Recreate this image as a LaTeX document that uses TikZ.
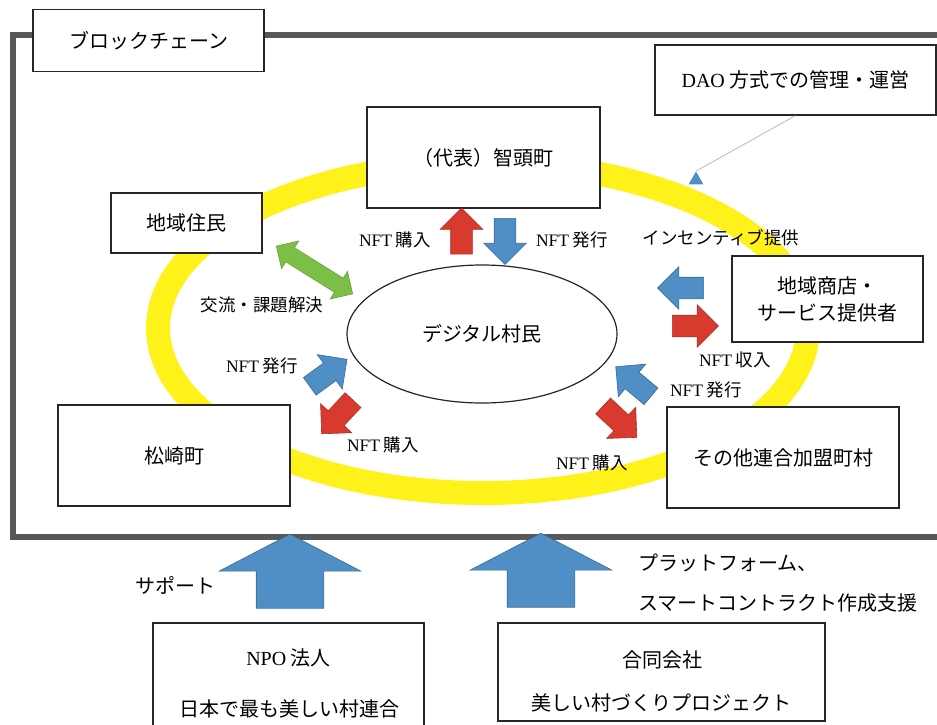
\documentclass[tikz,border=0pt]{standalone}
\usepackage{fontspec}
\setmainfont{Liberation Serif}
\newfontfamily\jp{Noto Sans CJK JP}
\usepackage{tikz}
\usetikzlibrary{shapes.arrows,shapes.geometric,arrows.meta}

\definecolor{ringyellow}{HTML}{FFF21A}
\definecolor{nftblue}{HTML}{4F8FC6}
\definecolor{nftred}{HTML}{D93A2E}
\definecolor{talkgreen}{HTML}{7CBF47}
\definecolor{framegray}{HTML}{585858}

\tikzset{
  box/.style={draw=black!85, line width=1.2pt, fill=white, inner sep=0pt},
  boxtext/.style={font=\jp\fontsize{20}{27}\selectfont, align=center},
  lbl/.style={font=\jp\fontsize{17.5}{20}\selectfont, inner sep=0pt},
  blockarrow/.style={single arrow, inner xsep=0pt, inner ysep=10.5pt, single arrow head indent=0pt,
    line width=0.6pt, minimum height=46, single arrow head extend=10.5},
  bluearrow/.style={blockarrow, fill=nftblue, draw=nftblue!75!black},
  redarrow/.style={blockarrow, fill=nftred, draw=nftred!80!black},
  bigarrow/.style={single arrow, inner xsep=0pt, inner ysep=33.5pt, single arrow head indent=0pt,
    single arrow tip angle=125, minimum height=74,
    single arrow head extend=37, fill=nftblue, draw=nftblue!75!black, line width=0.6pt},
}

\begin{document}
\begin{tikzpicture}[x=1pt, y=-1pt]
\useasboundingbox (0,0) rectangle (937,724);
\clip (0,0) rectangle (937,724);

% Blockchain frame and ring
\draw[framegray, line width=6pt] (12.5,35) rectangle (960,537);
\draw[ringyellow, line width=24pt] (483,328) ellipse [x radius=325, y radius=165];
\node[ellipse, draw=black!85, line width=1.2pt, fill=white, minimum width=270, minimum height=138, boxtext] (village) at (482,334) {デジタル村民};

% Boxes
\node[box, boxtext, minimum width=231, minimum height=62] (chain) at (148.5,40.5) {ブロックチェーン};
\node[box, boxtext, minimum width=281, minimum height=70] (dao) at (795.5,80) {{\rmfamily DAO} 方式での管理・運営};
\node[box, boxtext, minimum width=233, minimum height=101] (chizu) at (483.5,157.5) {（代表）智頭町};
\node[box, boxtext, minimum width=151, minimum height=60] (residents) at (186.5,223) {地域住民};
\node[box, boxtext, minimum width=191, minimum height=86] (shops) at (827.5,299) {地域商店・\\サービス提供者};
\node[box, boxtext, minimum width=232, minimum height=101] (matsuzaki) at (174,455.5) {松崎町};
\node[box, boxtext, minimum width=232, minimum height=101] (others) at (783,457.5) {その他連合加盟町村};
\node[box, minimum width=271, minimum height=108] (npo) at (288.5,677) {};
\node[box, minimum width=327, minimum height=98] (llc) at (661.5,672) {};

% NFT arrows
\node[redarrow, rotate=90] (buyTop) at (461.5,236.5) {};
\node[bluearrow, rotate=-90] (issueTop) at (505,236) {};
\node[bluearrow, rotate=36] (issueLeft) at (324,376) {};
\node[redarrow, rotate=-133] (buyLeft) at (341,413) {};
\node[bluearrow, rotate=180] (issueShop) at (686,288) {};
\node[redarrow, rotate=0] (incomeShop) at (690,326) {};
\node[bluearrow, rotate=140] (issueOther) at (637.5,385) {};
\node[redarrow, rotate=-43] (buyOther) at (616,418) {};
\node[double arrow, inner xsep=0pt, inner ysep=8pt, double arrow head indent=0pt, minimum height=90,
  double arrow head extend=8, fill=talkgreen, draw=talkgreen!85!black, line width=0.6pt, rotate=-32] (exchange) at (314.5,270) {};

% Support arrows
\node[bigarrow, rotate=90] (supportArrow) at (290,580) {};
\node[bigarrow, rotate=90] (platformArrow) at (541,579) {};

% Labels
\node[lbl] (buyTopLbl) at (395,240) {{\rmfamily NFT} 購入};
\node[lbl] (issueTopLbl) at (572,240) {{\rmfamily NFT} 発行};
\node[lbl] (incentiveLbl) at (721,238) {インセンティブ提供};
\node[lbl] (exchangeLbl) at (262,305) {交流・課題解決};
\node[lbl] (issueLeftLbl) at (262,366) {{\rmfamily NFT} 発行};
\node[lbl] (buyLeftLbl) at (383,445) {{\rmfamily NFT} 購入};
\node[lbl] (incomeLbl) at (735,360) {{\rmfamily NFT} 収入};
\node[lbl] (issueOtherLbl) at (706,390) {{\rmfamily NFT} 発行};
\node[lbl] (buyOtherLbl) at (592,463) {{\rmfamily NFT} 購入};

% Bottom texts
\node[boxtext] (supportLbl) at (175,585) {サポート};
\node[boxtext, anchor=west] (platformLbl) at (635,563) {プラットフォーム、};
\node[boxtext, anchor=west] (contractLbl) at (635,603) {スマートコントラクト作成支援};
\node[boxtext] (npoName) at (288.5,658) {{\rmfamily NPO} 法人};
\node[boxtext] (npoFull) at (289,709) {日本で最も美しい村連合};
\node[boxtext] (llcName) at (662,660) {合同会社};
\node[boxtext] (llcFull) at (661,703) {美しい村づくりプロジェクト};

% DAO pointer
\node[regular polygon, regular polygon sides=3, fill=nftblue, inner sep=0pt, minimum size=17] (daoMark) at (696,180) {};
\draw[gray!55, line width=0.8pt] (dao.south) -- (daoMark.corner 1);
\end{tikzpicture}
\end{document}
